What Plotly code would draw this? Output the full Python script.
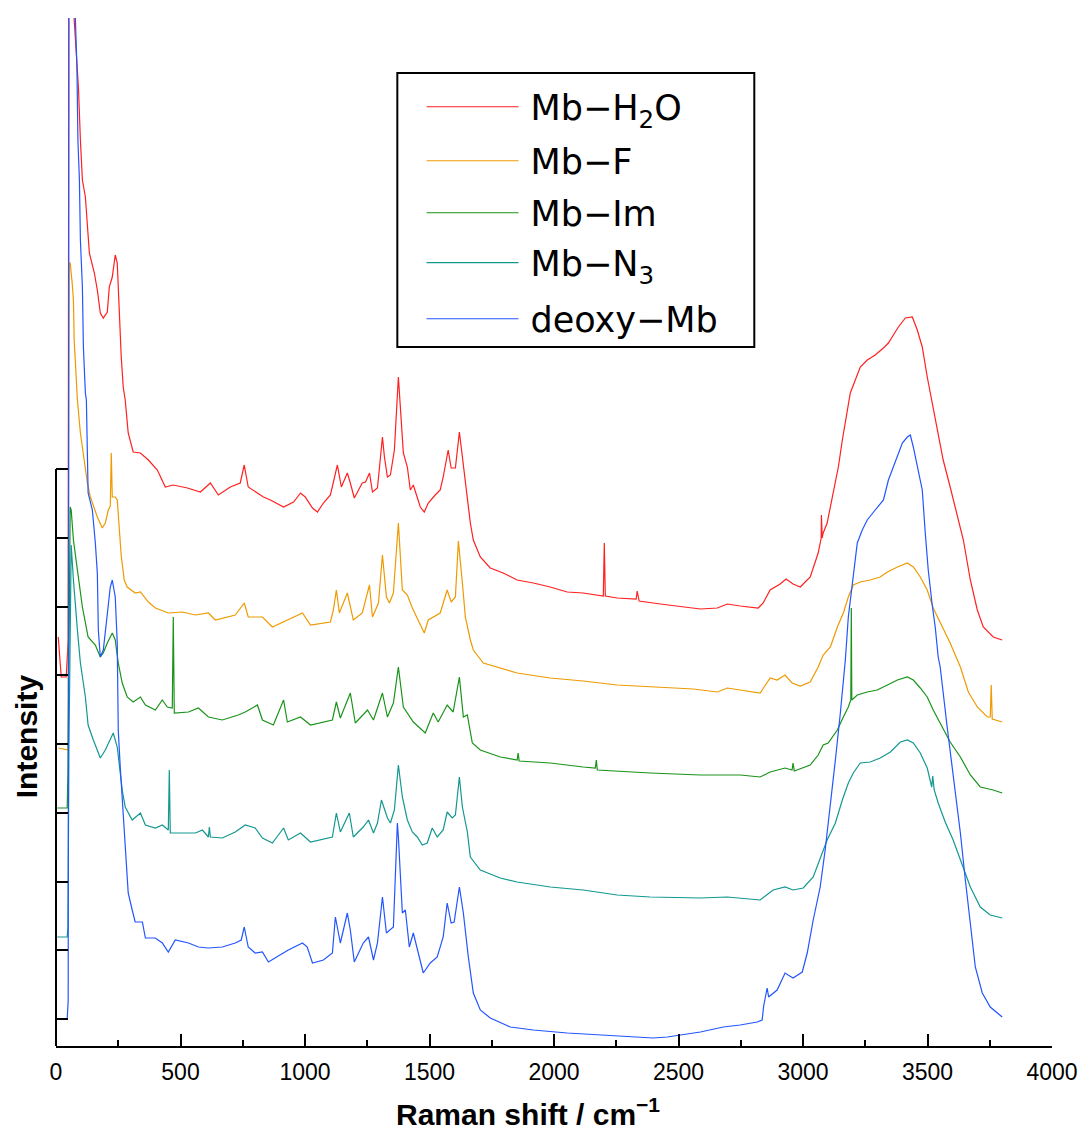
import plotly.graph_objects as go

# Raman shift (cm^-1), intensity (a.u.) pairs
mb_h2o = [(9,409),(21,369),(41,369),(49,406),(53,1500),(70,1500),(73,1026),(82,993),(90,959),(98,906),(106,866),(118,849),(126,816),(134,793),(154,773),(166,756),(178,733),(190,728),(206,734),(214,759),(226,769),(238,791),(246,783),(254,729),(262,689),(270,659),(278,646),(290,613),(310,594),(339,593),(371,586),(407,576),(439,559),(471,561),(528,558),(580,554),(620,563),(652,551),(700,559),(740,563),(756,581),(772,559),(833,549),(861,546),(914,539),(954,544),(982,553),(1001,549),(1030,538),(1050,534),(1074,543),(1102,551),(1114,563),(1130,581),(1146,559),(1170,573),(1182,563),(1198,548),(1230,563),(1243,564),(1259,573),(1271,554),(1291,558),(1311,609),(1319,589),(1331,569),(1343,571),(1359,596),(1375,669),(1387,629),(1395,593),(1411,579),(1423,556),(1435,561),(1451,549),(1463,539),(1479,534),(1495,543),(1523,551),(1543,556),(1555,569),(1575,596),(1587,578),(1604,578),(1620,614),(1632,589),(1648,553),(1664,523),(1676,506),(1704,489),(1744,478),(1796,473),(1852,466),(1917,463),(1985,459),(2053,454),(2117,453),(2186,450),(2198,450),(2202,503),(2206,450),(2254,448),(2330,447),(2334,455),(2342,445),(2427,442),(2588,437),(2656,438),(2696,442),(2748,440),(2820,438),(2840,443),(2868,456),(2908,462),(2932,467),(2960,462),(2989,459),(3029,469),(3049,483),(3061,493),(3073,508),(3074,531),(3077,508),(3081,513),(3097,523),(3122,553),(3142,579),(3158,606),(3178,633),(3190,653),(3210,666),(3230,679),(3258,686),(3290,691),(3323,698),(3343,703),(3363,711),(3383,719),(3411,728),(3439,729),(3459,716),(3479,699),(3499,669),(3519,643),(3539,616),(3563,586),(3591,559),(3620,529),(3644,506),(3672,466),(3700,436),(3724,419),(3764,409),(3800,406)]

mb_f = [(9,298),(45,296),(49,296),(53,783),(57,783),(65,763),(70,746),(73,706),(82,663),(86,646),(98,613),(118,579),(126,563),(138,549),(166,529),(186,518),(198,523),(210,536),(218,540),(222,593),(226,549),(238,549),(246,546),(262,490),(274,466),(286,459),(318,453),(339,454),(371,444),(399,438),(451,433),(507,434),(560,431),(612,433),(640,426),(720,431),(756,443),(772,429),(829,429),(869,419),(929,426),(990,433),(1022,421),(1102,424),(1114,436),(1126,456),(1138,433),(1170,453),(1194,426),(1230,433),(1259,461),(1271,429),(1295,443),(1311,491),(1327,449),(1339,443),(1355,453),(1375,523),(1391,456),(1411,451),(1431,438),(1455,426),(1479,413),(1495,426),(1515,429),(1543,433),(1571,456),(1587,444),(1604,449),(1616,505),(1632,463),(1644,429),(1664,406),(1676,396),(1716,383),(1784,378),(1852,373),(1985,368),(2117,365),(2254,361),(2386,359),(2559,357),(2656,354),(2696,358),(2748,356),(2828,353),(2868,368),(2896,366),(2928,371),(2956,363),(2989,360),(3029,364),(3061,379),(3081,391),(3110,399),(3138,419),(3162,433),(3182,449),(3202,461),(3230,464),(3270,466),(3310,469),(3339,474),(3379,479),(3419,483),(3443,479),(3471,469),(3499,456),(3523,438),(3559,419),(3591,403),(3632,379),(3664,354),(3700,339),(3740,329),(3752,329),(3756,361),(3760,327),(3800,324)]

mb_im = [(5,238),(45,238),(48,273),(52,450),(57,539),(61,536),(70,506),(86,476),(106,439),(129,409),(158,401),(178,389),(190,393),(206,403),(226,413),(238,406),(250,383),(266,363),(286,349),(310,344),(339,349),(359,341),(399,336),(427,346),(447,339),(467,338),(471,429),(475,333),(532,334),(572,338),(612,329),(668,326),(732,331),(760,334),(809,341),(829,326),(873,321),(914,346),(929,324),(982,329),(1022,321),(1110,326),(1126,344),(1142,328),(1182,353),(1202,323),(1251,336),(1275,326),(1311,353),(1331,329),(1355,343),(1375,379),(1395,339),(1435,324),(1463,318),(1483,313),(1515,333),(1535,324),(1571,341),(1595,334),(1620,369),(1636,329),(1652,331),(1672,303),(1704,296),(1784,289),(1852,286),(1856,293),(1860,285),(1985,283),(2117,279),(2166,278),(2170,286),(2174,276),(2386,273),(2588,271),(2748,271),(2828,269),(2868,274),(2928,278),(2956,276),(2960,283),(2965,275),(3029,281),(3061,291),(3081,301),(3101,303),(3138,316),(3162,329),(3182,339),(3192,346),(3194,438),(3196,346),(3218,351),(3258,354),(3298,356),(3339,361),(3379,366),(3419,369),(3443,366),(3471,358),(3499,349),(3523,336),(3551,323),(3591,304),(3632,289),(3672,271),(3712,259),(3764,256),(3800,253)]

mb_n3 = [(5,109),(45,109),(48,119),(52,300),(61,501),(70,466),(86,416),(98,383),(118,349),(129,321),(150,306),(178,288),(198,296),(218,306),(230,313),(246,299),(258,269),(266,256),(278,239),(306,226),(339,233),(359,221),(399,218),(427,221),(451,216),(455,276),(459,213),(507,213),(560,213),(588,216),(612,209),(616,219),(620,209),(668,208),(720,214),(760,221),(800,218),(829,208),(869,203),(914,218),(933,206),(982,213),(1022,204),(1110,209),(1126,233),(1142,214),(1178,233),(1194,209),(1234,219),(1255,226),(1275,213),(1291,223),(1307,246),(1331,228),(1343,223),(1359,236),(1375,281),(1391,249),(1411,226),(1431,214),(1451,209),(1471,201),(1491,203),(1511,218),(1531,209),(1555,216),(1571,234),(1591,228),(1604,231),(1620,269),(1632,239),(1652,214),(1664,189),(1704,176),(1784,168),(1852,164),(1985,159),(2117,156),(2254,151),(2386,149),(2588,148),(2696,149),(2828,146),(2880,156),(2928,159),(2960,156),(3001,158),(3041,169),(3077,193),(3097,206),(3130,223),(3158,246),(3182,263),(3202,273),(3230,283),(3270,284),(3310,288),(3351,294),(3391,304),(3419,306),(3443,303),(3471,293),(3499,278),(3517,259),(3521,270),(3527,256),(3543,243),(3571,224),(3603,206),(3644,179),(3672,159),(3712,139),(3752,131),(3800,128)]

deoxy_mb = [(5,27),(45,27),(49,46),(53,1500),(73,1500),(78,1026),(84,979),(88,906),(94,866),(98,806),(106,759),(110,699),(118,653),(122,646),(129,553),(146,536),(158,503),(166,473),(170,416),(178,389),(190,396),(206,429),(218,459),(226,466),(238,449),(246,403),(250,316),(258,279),(266,246),(278,193),(290,153),(306,136),(318,124),(347,124),(359,108),(399,108),(427,103),(451,94),(479,106),(532,103),(572,99),(612,98),(668,99),(720,103),(744,106),(756,119),(772,99),(800,93),(829,94),(853,84),(881,88),(933,96),(990,103),(1009,99),(1030,83),(1074,86),(1110,93),(1122,129),(1142,103),(1170,133),(1182,116),(1198,84),(1234,103),(1255,109),(1275,86),(1291,103),(1311,149),(1327,113),(1355,119),(1371,223),(1375,209),(1391,133),(1403,136),(1419,99),(1435,113),(1451,96),(1475,73),(1503,83),(1531,89),(1555,109),(1571,143),(1587,123),(1599,124),(1620,159),(1636,133),(1656,89),(1676,53),(1704,36),(1744,28),(1824,19),(1917,16),(2053,13),(2186,11),(2318,9),(2398,8),(2455,9),(2507,11),(2588,14),(2680,19),(2748,21),(2816,24),(2836,26),(2842,40),(2856,58),(2862,49),(2896,56),(2928,73),(2960,68),(2997,74),(3017,93),(3041,126),(3069,159),(3089,196),(3110,239),(3130,286),(3150,333),(3170,386),(3182,429),(3202,473),(3218,503),(3238,516),(3258,526),(3290,536),(3323,546),(3343,566),(3363,579),(3383,593),(3399,603),(3419,609),(3431,611),(3443,599),(3459,579),(3479,556),(3491,513),(3503,476),(3519,441),(3531,419),(3543,389),(3551,379),(3579,319),(3603,273),(3632,213),(3652,166),(3672,119),(3692,79),(3720,53),(3752,39),(3800,29)]

series_names = ["Mb\u2212H<sub>2</sub>O", "Mb\u2212F", "Mb\u2212Im", "Mb\u2212N<sub>3</sub>", "deoxy\u2212Mb"]
series_data = [mb_h2o, mb_f, mb_im, mb_n3, deoxy_mb]
series_colors = ["#FF2020", "#EE9A00", "#1A931A", "#12988F", "#2255FF"]

x_ticks = [0, 500, 1000, 1500, 2000, 2500, 3000, 3500, 4000]
y_tick_positions = [27 + 68.75 * k for k in range(9)]

FONT = "Liberation Sans, Arial, sans-serif"
LEGEND_FONT = "DejaVu Sans, Liberation Sans, sans-serif"

# one legend per entry so the row spacing of the reference can be kept
legend_keys = ["legend", "legend2", "legend3", "legend4", "legend5"]
legend_rows = [0.9134, 0.8609, 0.8103, 0.7617, 0.7072]

fig = go.Figure()
for name, data, color, key in zip(series_names, series_data, series_colors, legend_keys):
    fig.add_trace(go.Scatter(
        x=[p[0] for p in data], y=[p[1] for p in data],
        mode="lines", name="\u2009" + name, legend=key,
        line=dict(color=color, width=1.2),
    ))

legend_layout = {}
for key, row in zip(legend_keys, legend_rows):
    legend_layout[key] = dict(
        x=0.367, y=row, xanchor="left", yanchor="middle",
        bgcolor="rgba(0,0,0,0)", borderwidth=0,
        font=dict(size=35, family=LEGEND_FONT, color="black"),
        itemwidth=92, tracegroupgap=0,
    )

fig.update_layout(
    width=1079, height=1133,
    margin=dict(l=56, r=27, t=18, b=87, autoexpand=False),
    paper_bgcolor="white", plot_bgcolor="white",
    font=dict(family=FONT, color="black"),
    showlegend=True,
    xaxis=dict(
        range=[0, 4000], tickvals=x_ticks, ticktext=[str(v) for v in x_ticks],
        showline=True, linecolor="black", linewidth=2,
        ticks="inside", ticklen=12, tickwidth=2, tickcolor="black",
        minor=dict(ticks="inside", ticklen=6, tickwidth=2, dtick=250, tickcolor="black"),
        showgrid=False, zeroline=False, automargin=False,
        tickfont=dict(size=23, family=FONT),
        ticklabelstandoff=4,
    ),
    yaxis=dict(
        range=[0, 1028], tickvals=y_tick_positions, showticklabels=False,
        showline=False, ticks="inside", ticklen=12, tickwidth=2, tickcolor="black",
        showgrid=False, zeroline=False, automargin=False,
    ),
    shapes=[
        dict(type="line", xref="paper", yref="y", x0=0, x1=0, y0=0, y1=577,
             line=dict(color="black", width=2)),
        dict(type="rect", xref="paper", yref="paper", x0=0.3427, x1=0.7011, y0=0.680, y1=0.9465,
             line=dict(color="black", width=2), fillcolor="rgba(0,0,0,0)"),
    ],
    annotations=[
        dict(text="<b>Intensity</b>", xref="paper", yref="paper", x=-0.0288, y=0.3016,
             xanchor="center", yanchor="middle",
             textangle=-90, showarrow=False, font=dict(size=30, family=FONT, color="black")),
        dict(text="<b>Raman shift / cm<sup>\u22121</sup></b>", xref="paper", yref="paper",
             x=0.474, y=-0.064, xanchor="center", yanchor="middle",
             showarrow=False, font=dict(size=30, family=FONT, color="black")),
    ],
    **legend_layout,
)

fig.write_html(
    "out.html",
    config={"displayModeBar": False},
    post_script="document.documentElement.style.overflow='hidden';document.body.style.margin='0';document.body.style.overflow='hidden';",
)
